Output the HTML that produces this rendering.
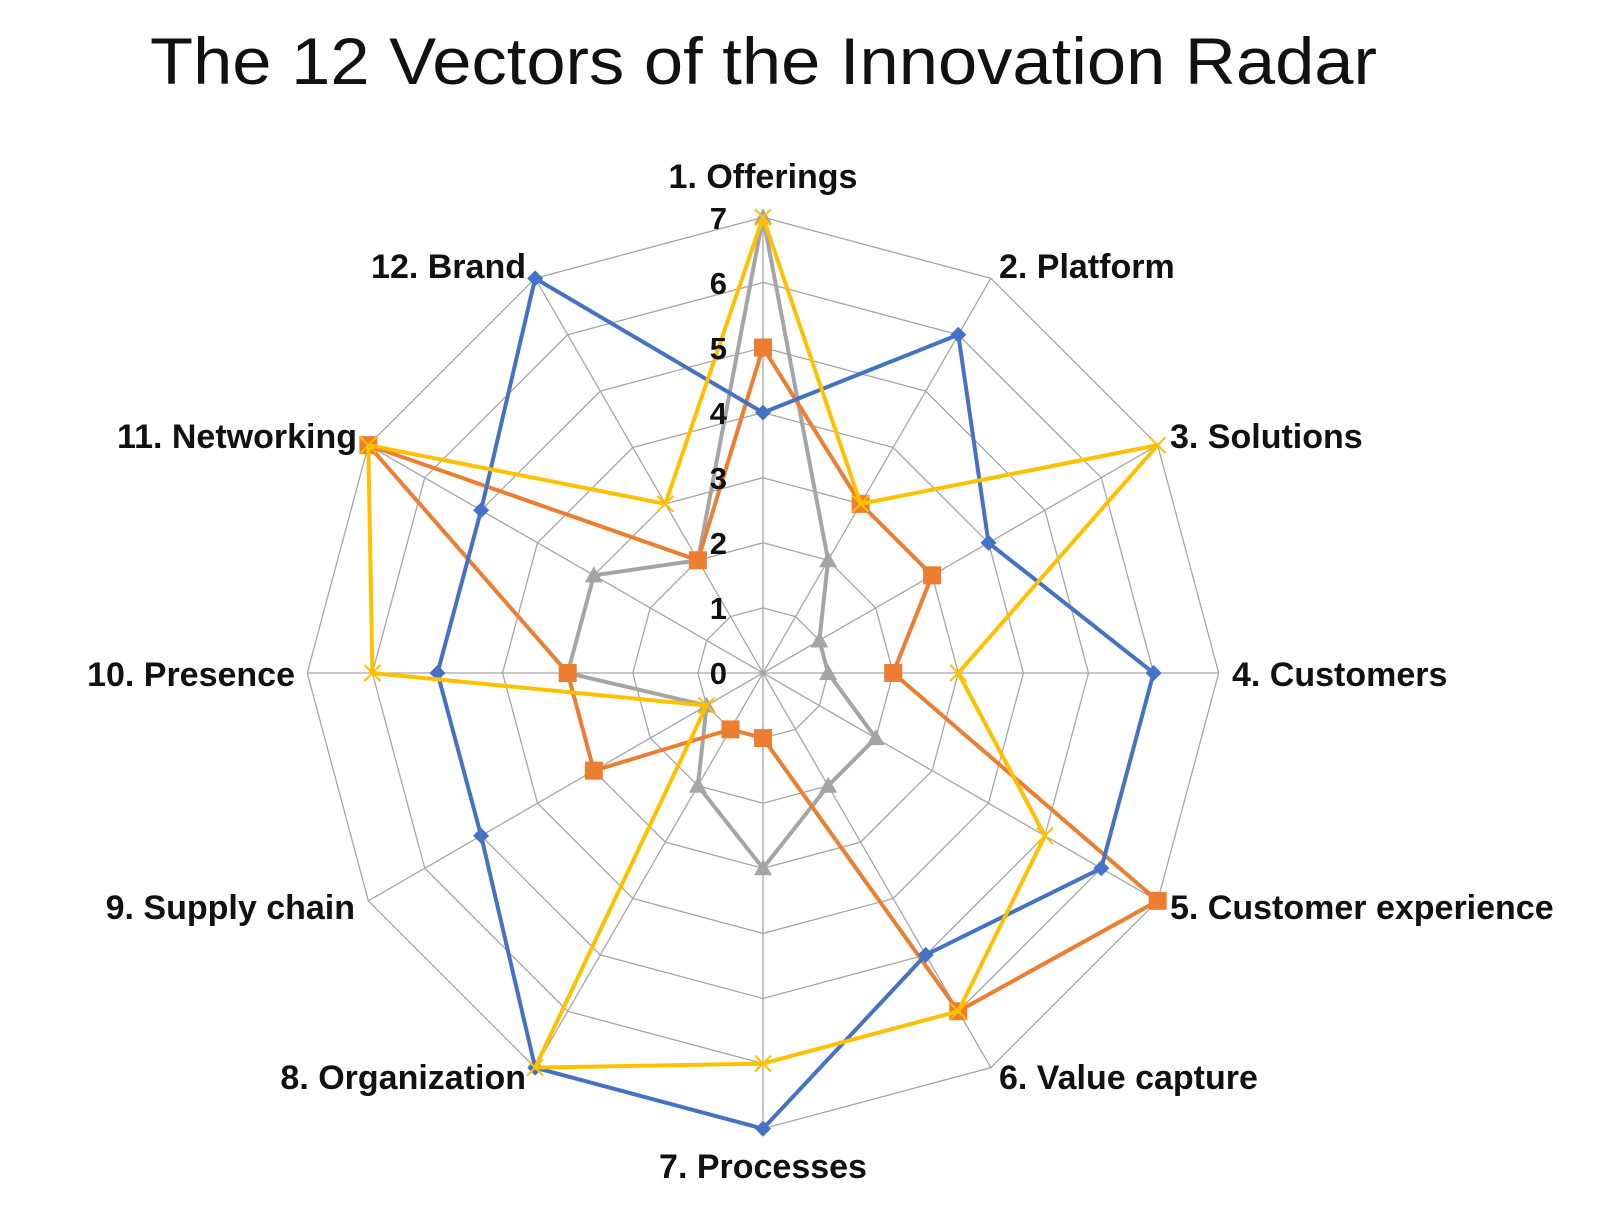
<!DOCTYPE html>
<html><head><meta charset="utf-8"><style>
html,body{margin:0;padding:0;background:#fff;width:1624px;height:1210px;overflow:hidden}
svg{display:block}
.lb{font-family:"Liberation Sans",sans-serif;font-weight:bold;font-size:34px;fill:#111}
.tk{font-family:"Liberation Sans",sans-serif;font-weight:bold;font-size:31px;fill:#111;text-anchor:end}
</style></head><body>
<svg id="s" width="1624" height="1210" viewBox="0 0 1624 1210" xmlns="http://www.w3.org/2000/svg">
<text x="150" y="84" font-family="Liberation Sans, sans-serif" font-size="66" fill="#111" textLength="1227" lengthAdjust="spacingAndGlyphs">The 12 Vectors of the Innovation Radar</text>
<g id="grid"></g>
<g id="data"></g>
<g>
<text class="tk" x="727" y="684">0</text>
<text class="tk" x="727" y="619">1</text>
<text class="tk" x="727" y="554">2</text>
<text class="tk" x="727" y="489">3</text>
<text class="tk" x="727" y="424">4</text>
<text class="tk" x="727" y="359">5</text>
<text class="tk" x="727" y="294">6</text>
<text class="tk" x="727" y="229">7</text>
</g>
<text class="lb" x="763" y="188" text-anchor="middle">1. Offerings</text>
<text class="lb" x="999" y="278">2. Platform</text>
<text class="lb" x="1170" y="448">3. Solutions</text>
<text class="lb" x="1232" y="686">4. Customers</text>
<text class="lb" x="1170" y="919">5. Customer experience</text>
<text class="lb" x="999" y="1089">6. Value capture</text>
<text class="lb" x="763" y="1178" text-anchor="middle">7. Processes</text>
<text class="lb" x="526" y="1089" text-anchor="end">8. Organization</text>
<text class="lb" x="355" y="919" text-anchor="end">9. Supply chain</text>
<text class="lb" x="295" y="686" text-anchor="end">10. Presence</text>
<text class="lb" x="357" y="448" text-anchor="end">11. Networking</text>
<text class="lb" x="526" y="278" text-anchor="end">12. Brand</text>
</svg>
<script>
var cx=763,cy=673,u=65.1,NS="http://www.w3.org/2000/svg";
function pt(k,v){var a=(-90+30*k)*Math.PI/180;return [cx+v*u*Math.cos(a),cy+v*u*Math.sin(a)];}
function el(t,at,p){var e=document.createElementNS(NS,t);for(var k in at)e.setAttribute(k,at[k]);p.appendChild(e);return e;}
var g=document.getElementById('grid'),d=document.getElementById('data');
for(var r=1;r<=7;r++){var ps=[];for(var k=0;k<12;k++)ps.push(pt(k,r).join(','));el('polygon',{points:ps.join(' '),fill:'none',stroke:'#a6a6a6','stroke-width':1.3},g);}
for(var k=0;k<12;k++){var p=pt(k,7);el('line',{x1:cx,y1:cy,x2:p[0],y2:p[1],stroke:'#a6a6a6','stroke-width':1.3},g);}
var S=[
 {c:'#a5a5a5',v:[7,2,1,1,2,2,3,2,1,3,3,2],m:'tri'},
 {c:'#ed7d31',v:[5,3,3,2,7,6,1,1,3,3,7,2],m:'sq'},
 {c:'#4472c4',v:[4,6,4,6,6,5,7,7,5,5,5,7],m:'dia'},
 {c:'#ffc000',v:[7,3,7,3,5,6,6,7,1,6,7,3],m:'x'}];
S.forEach(function(s){var ps=s.v.map(function(v,k){return pt(k,v);});
 el('polygon',{points:ps.map(function(p){return p.join(',')}).join(' '),fill:'none',stroke:s.c,'stroke-width':4,'stroke-linejoin':'round'},d);
 ps.forEach(function(p){var x=p[0],y=p[1];
  if(s.m=='sq')el('rect',{x:x-9,y:y-9,width:18,height:18,fill:s.c},d);
  else if(s.m=='dia')el('polygon',{points:[x,y-8,x+8,y,x,y+8,x-8,y].join(','),fill:s.c},d);
  else if(s.m=='tri')el('polygon',{points:[x,y-9,x+9,y+7,x-9,y+7].join(','),fill:s.c},d);
  else{el('line',{x1:x-8,y1:y-8,x2:x+8,y2:y+8,stroke:s.c,'stroke-width':2},d);el('line',{x1:x-8,y1:y+8,x2:x+8,y2:y-8,stroke:s.c,'stroke-width':2},d);}
 });});
</script>
</body></html>
